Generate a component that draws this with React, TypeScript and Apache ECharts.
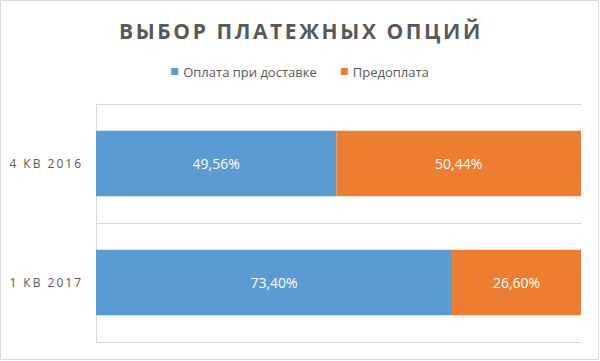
import React, { useEffect, useRef } from "react";
import * as echarts from "echarts";

const titleText = "ВЫБОР ПЛАТЕЖНЫХ ОПЦИЙ";
const categories = ["4 КВ 2016", "1 КВ 2017"];
const seriesNames = ["Оплата при доставке", "Предоплата"];
const codValues = [49.56, 73.4];
const prepaidValues = [50.44, 26.6];
const colors = ["#5b9bd5", "#ed7d31"];

const fmt = (v: number) => v.toFixed(2).replace(".", ",") + "%";

export default function App() {
  const ref = useRef<HTMLDivElement>(null);
  useEffect(() => {
    if (!ref.current) return;
    const chart = echarts.init(ref.current, undefined, { renderer: "svg" });
    const font = "'Open Sans', 'Noto Sans', sans-serif";
    const labelCfg = {
      show: true,
      position: "inside",
      color: "#ffffff",
      fontSize: 14,
      fontFamily: font,
      formatter: (p: any) => fmt(p.value),
    };
    chart.setOption({
      animation: false,
      backgroundColor: "#ffffff",
      title: {
        text: titleText,
        left: 114,
        top: 15,
        textStyle: { color: "#595959", fontSize: 21, fontWeight: "bold", fontFamily: font },
      },
      legend: {
        top: 60,
        left: "center",
        itemWidth: 7,
        itemHeight: 7,
        itemGap: 24,
        icon: "rect",
        textStyle: { color: "#595959", fontSize: 13, fontFamily: font },
        data: seriesNames,
      },
      grid: { left: 96, right: 19, top: 104, bottom: 19, containLabel: false },
      xAxis: {
        type: "value",
        min: 0,
        max: 100,
        show: false,
      },
      yAxis: {
        type: "category",
        inverse: true,
        data: categories,
        axisLine: { show: true, lineStyle: { color: "#d9d9d9" } },
        axisTick: { show: false },
        axisLabel: { color: "#595959", fontSize: 12, fontFamily: font, margin: 13 },
        splitLine: { show: true, lineStyle: { color: "#d9d9d9" } },
      },
      graphic: [
        {
          type: "rect",
          shape: { x: 0.5, y: 0.5, width: 598, height: 359 },
          style: { fill: "none", stroke: "#d9d9d9", lineWidth: 1 },
          silent: true,
        },
      ],
      series: [
        {
          name: seriesNames[0],
          type: "bar",
          stack: "total",
          barCategoryGap: "45%",
          data: codValues,
          itemStyle: { color: colors[0] },
          label: labelCfg,
        },
        {
          name: seriesNames[1],
          type: "bar",
          stack: "total",
          barCategoryGap: "45%",
          data: prepaidValues,
          itemStyle: { color: colors[1] },
          label: labelCfg,
        },
      ],
    });
    const applySpacing = () => {
      const texts = ref.current?.querySelectorAll("text") || [];
      texts.forEach((t: any) => {
        const c = t.textContent || "";
        if (c === titleText) t.style.letterSpacing = "2.6px";
        else if (categories.includes(c)) t.style.letterSpacing = "2px";
      });
    };
    applySpacing();
    chart.on("finished", applySpacing);
    return () => chart.dispose();
  }, []);
  return (
    <div
      ref={ref}
      style={{ position: "absolute", left: 0, top: 0, width: 600, height: 361 }}
    />
  );
}
